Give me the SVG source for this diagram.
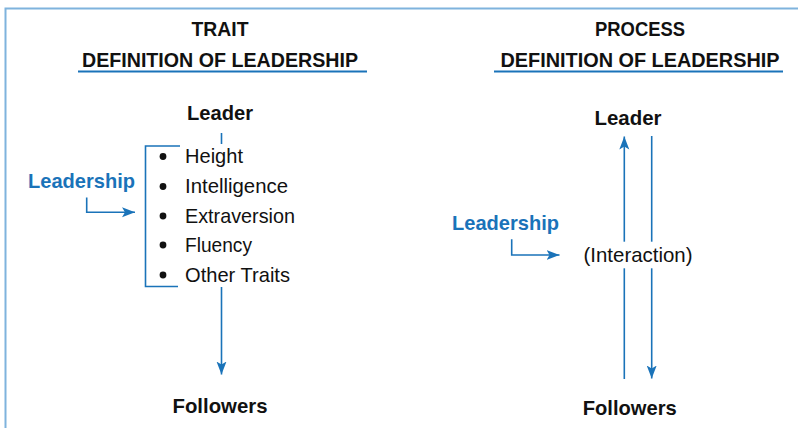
<svg xmlns="http://www.w3.org/2000/svg" width="798" height="428" viewBox="0 0 798 428">
<style>
  .t { font-family: "Liberation Sans", Arial, sans-serif; font-size: 21px; fill: #111; }
  .b { font-weight: bold; }
  .blue { fill: #1a73b9; }
  .ln { stroke: #1a73b9; stroke-width: 1.6; fill: none; }
  .ul { stroke: #1a73b9; stroke-width: 2; }
</style>
<defs>
  <marker id="ah" markerUnits="userSpaceOnUse" markerWidth="14" markerHeight="12" viewBox="0 0 14 12" refX="13" refY="6" orient="auto">
    <path d="M0,1 L13,6 L0,11 L3,6 Z" fill="#1a73b9"/>
  </marker>
</defs>
<rect width="798" height="428" fill="#fff"/>
<path d="M5.5,428 V8.5 H798" stroke="#7fb3dd" stroke-width="2" fill="none"/>

<g id="trait-title">
  <text class="t b" x="220" y="36" text-anchor="middle" textLength="57" lengthAdjust="spacingAndGlyphs">TRAIT</text>
  <text class="t b" x="220" y="66.5" text-anchor="middle" textLength="276" lengthAdjust="spacingAndGlyphs">DEFINITION OF LEADERSHIP</text>
  <line class="ul" x1="78" y1="71.5" x2="367" y2="71.5"/>
</g>
<g id="process-title">
  <text class="t b" x="640" y="36" text-anchor="middle" textLength="90" lengthAdjust="spacingAndGlyphs">PROCESS</text>
  <text class="t b" x="640" y="66.5" text-anchor="middle" textLength="279" lengthAdjust="spacingAndGlyphs">DEFINITION OF LEADERSHIP</text>
  <line class="ul" x1="494" y1="71.5" x2="783" y2="71.5"/>
</g>

<g id="trait-leader"><text class="t b" x="220" y="120" text-anchor="middle" textLength="66" lengthAdjust="spacingAndGlyphs">Leader</text></g>
<g id="trait-traits">
  <path class="ln" d="M180,146 H145.5 V286.5 H178"/>
  <g fill="#111">
    <circle cx="163" cy="156.5" r="3.4"/>
    <circle cx="163" cy="186.5" r="3.4"/>
    <circle cx="163" cy="216" r="3.4"/>
    <circle cx="163" cy="245" r="3.4"/>
    <circle cx="163" cy="275" r="3.4"/>
  </g>
  <text class="t" x="185" y="163.3" textLength="58" lengthAdjust="spacingAndGlyphs">Height</text>
  <text class="t" x="185" y="193.3" textLength="103" lengthAdjust="spacingAndGlyphs">Intelligence</text>
  <text class="t" x="185" y="222.7" textLength="110" lengthAdjust="spacingAndGlyphs">Extraversion</text>
  <text class="t" x="185" y="251.7" textLength="67" lengthAdjust="spacingAndGlyphs">Fluency</text>
  <text class="t" x="185" y="281.7" textLength="105" lengthAdjust="spacingAndGlyphs">Other Traits</text>
</g>
<g id="trait-leadership"><text class="t b blue" x="28" y="188.3" textLength="107" lengthAdjust="spacingAndGlyphs">Leadership</text></g>
<g id="trait-followers"><text class="t b" x="220" y="413.3" text-anchor="middle" textLength="95" lengthAdjust="spacingAndGlyphs">Followers</text></g>

<g id="process-leader"><text class="t b" x="628" y="125" text-anchor="middle" textLength="67" lengthAdjust="spacingAndGlyphs">Leader</text></g>
<g id="process-leadership"><text class="t b blue" x="452" y="230" textLength="107" lengthAdjust="spacingAndGlyphs">Leadership</text></g>
<g id="process-interaction"><text class="t" x="638" y="261.7" text-anchor="middle" textLength="109" lengthAdjust="spacingAndGlyphs">(Interaction)</text></g>
<g id="process-followers"><text class="t b" x="629.7" y="415" text-anchor="middle" textLength="94" lengthAdjust="spacingAndGlyphs">Followers</text></g>

<g id="connectors">
  <line class="ln" x1="221.5" y1="133" x2="221.5" y2="144"/>
  <path class="ln" d="M86.7,197.5 V212.3 H135" marker-end="url(#ah)"/>
  <line class="ln" x1="221.5" y1="287" x2="221.5" y2="374.5" marker-end="url(#ah)"/>
  <path class="ln" d="M511.7,239.3 V255 H559.5" marker-end="url(#ah)"/>
  <line class="ln" x1="624.3" y1="379" x2="624.3" y2="268.3"/>
  <line class="ln" x1="624.3" y1="241.7" x2="624.3" y2="136.5" marker-end="url(#ah)"/>
  <line class="ln" x1="651.7" y1="136" x2="651.7" y2="241.7"/>
  <line class="ln" x1="651.7" y1="268.3" x2="651.7" y2="378.5" marker-end="url(#ah)"/>
</g>
</svg>
